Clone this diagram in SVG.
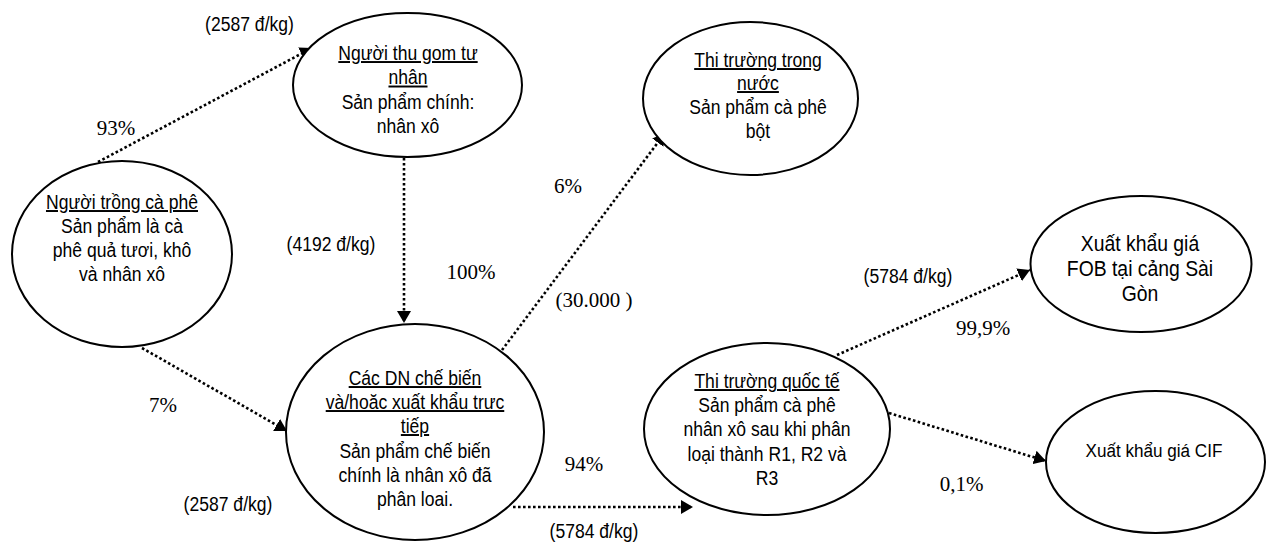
<svg xmlns="http://www.w3.org/2000/svg" width="1270" height="543" viewBox="0 0 1270 543">
<style>
.bg{fill:#fff}
.node{fill:#fff;stroke:#000;stroke-width:2}
.conn{fill:none;stroke:#000;stroke-width:2.6;stroke-dasharray:2.6 2.4}
.t{font-family:"Liberation Sans",Arial,sans-serif;font-size:19.5px;fill:#000;text-anchor:middle;transform-box:fill-box;transform-origin:center;transform:scaleX(0.9)}
.big{font-size:22px;transform:scaleX(0.88)}
.cif{font-size:19px}
.s{font-family:"Liberation Serif","Times New Roman",serif;font-size:21px;fill:#000;text-anchor:middle}
.u{text-decoration:underline}
</style>
<defs>
<marker id="ah" markerUnits="userSpaceOnUse" markerWidth="14" markerHeight="14" refX="12" refY="7" orient="auto">
<path d="M0,0 L12,7 L0,14 z" fill="#000"/>
</marker>
</defs>
<rect class="bg" x="0" y="0" width="1270" height="543"/>
<g id="connectors">
<path class="conn" d="M98,162 L312,48" marker-end="url(#ah)"/>
<path class="conn" d="M404,158 L404,323" marker-end="url(#ah)"/>
<path class="conn" d="M142,348 L287,431" marker-end="url(#ah)"/>
<path class="conn" d="M502,350 L665,133" marker-end="url(#ah)"/>
<path class="conn" d="M513,507 L693,507" marker-end="url(#ah)"/>
<path class="conn" d="M837,355 L1030,270" marker-end="url(#ah)"/>
<path class="conn" d="M889,413 L1046,461" marker-end="url(#ah)"/>
</g>
<g id="node-nguoi-trong">
<ellipse class="node" cx="122" cy="254" rx="110" ry="93"/>
<text class="t"><tspan class="u" x="122" y="209">Người trồng cà phê</tspan><tspan x="122" y="233">Sản phẩm là cà</tspan><tspan x="122" y="257">phê quả tươi, khô</tspan><tspan x="122" y="281">và nhân xô</tspan></text>
</g>
<g id="node-thu-gom">
<ellipse class="node" cx="407.5" cy="85" rx="114.5" ry="72"/>
<text class="t"><tspan class="u" x="408" y="60">Người thu gom tư</tspan><tspan class="u" x="408" y="84.5">nhân</tspan><tspan x="408" y="109">Sản phẩm chính:</tspan><tspan x="408" y="133.5">nhân xô</tspan></text>
</g>
<g id="node-dn">
<ellipse class="node" cx="415" cy="432" rx="129" ry="108"/>
<text class="t"><tspan class="u" x="415" y="385">Các DN chế biến</tspan><tspan class="u" x="415" y="409">và/hoăc xuất khẩu trưc</tspan><tspan class="u" x="415" y="433">tiếp</tspan><tspan x="415" y="458">Sản phẩm chế biến</tspan><tspan x="415" y="482">chính là nhân xô đã</tspan><tspan x="415" y="506">phân loai.</tspan></text>
</g>
<g id="node-trong-nuoc">
<ellipse class="node" cx="750.5" cy="98.5" rx="107.5" ry="76.5"/>
<text class="t"><tspan class="u" x="758" y="67">Thi trường trong</tspan><tspan class="u" x="758" y="90">nước</tspan><tspan x="758" y="114">Sản phẩm cà phê</tspan><tspan x="758" y="138">bột</tspan></text>
</g>
<g id="node-quoc-te">
<ellipse class="node" cx="767" cy="429" rx="123" ry="86"/>
<text class="t"><tspan class="u" x="767" y="388">Thi trường quốc tế</tspan><tspan x="767" y="412.5">Sản phẩm cà phê</tspan><tspan x="767" y="436.5">nhân xô sau khi phân</tspan><tspan x="767" y="461">loại thành R1, R2 và</tspan><tspan x="767" y="485">R3</tspan></text>
</g>
<g id="node-fob">
<ellipse class="node" cx="1141" cy="264" rx="110.5" ry="68"/>
<text class="t big"><tspan x="1140" y="251">Xuất khẩu giá</tspan><tspan x="1140" y="276">FOB tại cảng Sài</tspan><tspan x="1140" y="301">Gòn</tspan></text>
</g>
<g id="node-cif">
<ellipse class="node" cx="1155.5" cy="462" rx="109.5" ry="71"/>
<text class="t cif" x="1154" y="457">Xuất khẩu giá CIF</text>
</g>
<g id="labels">
<text class="t" x="249.5" y="31">(2587 đ/kg)</text>
<text class="t" x="331" y="251">(4192 đ/kg)</text>
<text class="t" x="228" y="511">(2587 đ/kg)</text>
<text class="t" x="594" y="538">(5784 đ/kg)</text>
<text class="t" x="908" y="283">(5784 đ/kg)</text>
<text class="s" x="116" y="135">93%</text>
<text class="s" x="471" y="279">100%</text>
<text class="s" x="568" y="193">6%</text>
<text class="s" x="163" y="412">7%</text>
<text class="s" x="584" y="471">94%</text>
<text class="s" x="983" y="335">99,9%</text>
<text class="s" x="961.5" y="490.5">0,1%</text>
<text class="s" x="594" y="307">(30.000 )</text>
</g>
</svg>
